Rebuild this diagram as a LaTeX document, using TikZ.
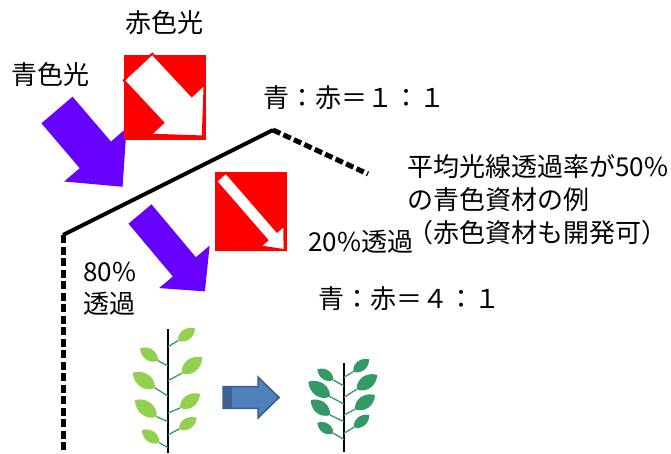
\documentclass[tikz,border=0pt]{standalone}
\usepackage{fontspec}
\setmainfont{Noto Sans CJK JP}
\usepackage{xcolor}
\usepackage{tikz}

\definecolor{bluelight}{HTML}{6600FF}
\definecolor{redlight}{HTML}{FF0000}
\definecolor{youngleaf}{HTML}{92D050}
\definecolor{darkleaf}{HTML}{339966}
\definecolor{stalk}{HTML}{339966}
\definecolor{growfill}{HTML}{4F81BD}
\definecolor{growline}{HTML}{385D8A}
\definecolor{growdark}{HTML}{3B6396}

% fat block arrow: length, half shaft, half head, head length
\tikzset{
  pics/fatarrow/.style n args={4}{code={
    \path[pic actions] (0,#2) -- ({#1-#4},#2) -- ({#1-#4},#3) -- (#1,0)
      -- ({#1-#4},-#3) -- ({#1-#4},-#2) -- (0,-#2) -- cycle;
  }},
  pics/leaf/.style={code={
    \path[pic actions] (0,0) .. controls (0.22,0.35) and (0.72,0.35) .. (1,0)
      .. controls (0.72,-0.35) and (0.22,-0.35) .. (0,0) -- cycle;
  }}
}

\begin{document}
\begin{tikzpicture}[x=1pt,y=-1pt,
    txt/.style={font=\fontsize{26}{33}\selectfont, inner sep=0pt},
    wall/.style={line width=4pt},
    walldash/.style={line width=5pt, dash pattern=on 8pt off 3.5pt},
    petiole/.style={stalk, line width=1.3pt}]
    \useasboundingbox (0,0) rectangle (671,454);

    % house outline
    \coordinate (floor) at (63,454);
    \coordinate (corner) at (63,235);
    \coordinate (apex) at (273,130);
    \coordinate (eave) at (368,174);
    \draw[wall, line join=miter] (corner) -- (apex);
    \draw[walldash] (apex) -- (eave);
    \draw[walldash] (corner) -- (floor);

    % incoming light
    \pic[fill=bluelight, rotate=-49.5] at (57,110) {fatarrow={101}{20.5}{41}{42}};
    \fill[redlight] (124,55) rectangle (206,140);
    \pic[fill=white, draw=redlight, line width=2pt, rotate=-47] at (138,67) {fatarrow={95}{19.5}{37}{37}};

    % light after the cover
    \pic[fill=bluelight, rotate=-50] at (140,214) {fatarrow={101}{15}{33}{32}};
    \fill[redlight] (215,172) rectangle (287,251);
    \pic[fill=white, draw=redlight, line width=2pt, rotate=-49] at (221,177) {fatarrow={97}{6.5}{16}{19}};

    % labels
    \node[txt] (redname) at (164.5,23) {赤色光};
    \node[txt] (bluename) at (50.5,75) {青色光};
    \node[txt, anchor=west] (ratiotop) at (263,98) {青：赤＝１：１};
    \node[txt, anchor=west, align=left] (note) at (407,200) {平均光線透過率が50\%\\の青色資材の例\\（赤色資材も開発可）};
    \node[txt, anchor=west] (redpass) at (308,242) {20\%透過};
    \node[txt, anchor=west] (ratiolow) at (318,299) {青：赤＝４：１};
    \node[txt, anchor=west, align=left, font=\fontsize{26}{32}\selectfont] (bluepass) at (83,289) {80\%\\透過};

    % young plant
    \draw[line width=1.5pt] (168,329) -- (168,453);
    \foreach \ay/\bx/\by/\ang/\len in {346.7/178/340.7/36/21, 380.7/181.7/373.3/38/26,
        413/180/408/35/24.4, 435/179/429/32/21, 366/158/360.7/145/22,
        396/155/388/145.5/27, 421.7/156.7/416.7/142.4/27.4, 447.7/159.3/442.7/144/21.7} {
      \draw[petiole] (168,\ay) -- (\bx,\by);
      \pic[fill=youngleaf, rotate=\ang, scale=\len] at (\bx,\by) {leaf};
    }

    % growth arrow
    \pic[fill=growfill, draw=growline, line width=1.5pt] at (223,397.5) {fatarrow={56}{10.8}{20.5}{21}};
    \fill[growdark] (222.5,387) rectangle (232,408);

    % grown plant
    \draw[line width=1.5pt] (344,363) -- (344,452);
    \foreach \ay/\bx/\by/\ang/\len in {377.3/353.3/371.7/38/20.2, 397.3/356.7/389.3/35/25.1,
        415/355/409.3/35.6/24.6, 433.3/354/427.3/38.8/19.6, 386/333.3/380/146/19.2,
        404/330/396.7/145.3/26.4, 421.7/330/415/142/24.4, 439.3/333.3/433.3/146.5/19.2} {
      \draw[petiole] (344,\ay) -- (\bx,\by);
      \pic[fill=darkleaf, rotate=\ang, scale=\len] at (\bx,\by) {leaf};
    }
\end{tikzpicture}
\end{document}
